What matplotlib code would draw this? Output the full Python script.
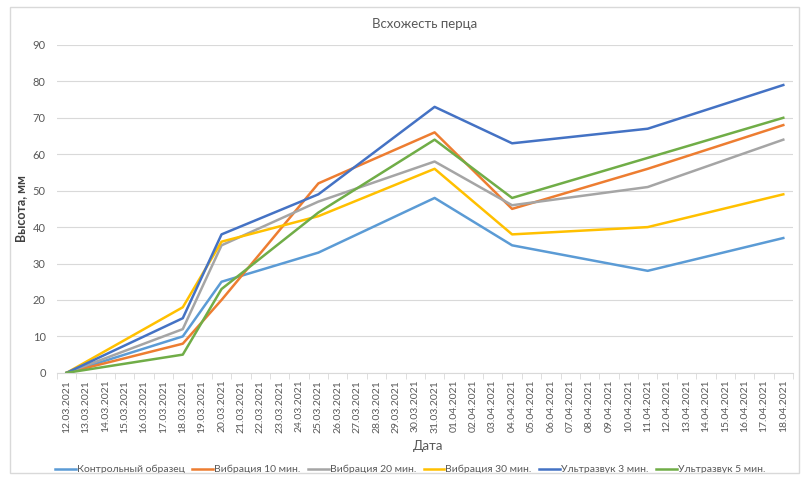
import matplotlib
matplotlib.use('Agg')
import matplotlib.pyplot as plt
import pandas as pd

plt.rcParams['font.family'] = ['Lato', 'DejaVu Sans']

# Все даты оси и даты измерений
dates = pd.date_range('2021-03-12', '2021-04-18').strftime('%d.%m.%Y').tolist()
point_dates = ['12.03.2021', '18.03.2021', '20.03.2021', '25.03.2021',
               '31.03.2021', '04.04.2021', '11.04.2021', '18.04.2021']

control = [0, 10, 25, 33, 48, 35, 28, 37]
vib10 = [0, 8, 20, 52, 66, 45, 56, 68]
vib20 = [0, 12, 35, 47, 58, 46, 51, 64]
vib30 = [0, 18, 36, 43, 56, 38, 40, 49]
us3 = [0, 15, 38, 49, 73, 63, 67, 79]
us5 = [0, 5, 23, 44, 64, 48, 59, 70]

series = [
    ('Контрольный образец', control, '#5B9BD5'),
    ('Вибрация 10 мин.', vib10, '#ED7D31'),
    ('Вибрация 20 мин.', vib20, '#A5A5A5'),
    ('Вибрация 30 мин.', vib30, '#FFC000'),
    ('Ультразвук 3 мин.', us3, '#4472C4'),
    ('Ультразвук 5 мин.', us5, '#70AD47'),
]

x = [dates.index(d) for d in point_dates]

fig = plt.figure(figsize=(8.01, 4.78), dpi=100)
ax = fig.add_axes([0.071, 0.22, 0.919, 0.686])

for name, vals, col in series:
    ax.plot(x, vals, color=col, lw=1.8, label=name)

ax.set_xlim(-0.5, len(dates) - 0.5)
ax.set_ylim(0, 90)
ax.set_yticks(range(0, 91, 10))
ax.set_xticks(range(len(dates)))
ax.set_xticklabels(dates, rotation=90, fontsize=7.5, color='#595959')
ax.set_xticks([i - 0.5 for i in range(len(dates) + 1)], minor=True)
ax.tick_params(axis='x', which='major', length=0, pad=5)
ax.tick_params(axis='x', which='minor', length=4, color='#D9D9D9')
ax.tick_params(axis='y', length=0, labelsize=8, labelcolor='#595959', pad=8)
ax.grid(axis='y', color='#D9D9D9', lw=0.8)
ax.set_axisbelow(True)
for s in ['top', 'right', 'left']:
    ax.spines[s].set_visible(False)
ax.spines['bottom'].set_color('#D9D9D9')

ax.set_title('Всхожесть перца', fontsize=9.5, color='#595959', pad=12)
ax.set_ylabel('Высота, мм', fontsize=9, color='#404040', fontweight='bold')
ax.set_xlabel('Дата', fontsize=9.5, color='#595959')
ax.xaxis.set_label_coords(0.505, -0.205)

ax.legend(loc='upper center', bbox_to_anchor=(0.48, -0.252), ncol=6, frameon=False,
          fontsize=7.5, handlelength=2.0, handletextpad=0.1, columnspacing=0.7,
          labelcolor='#595959')

fig.patches.append(plt.Rectangle((0.012, 0.01), 0.985, 0.975, transform=fig.transFigure,
                                 fill=False, edgecolor='#D9D9D9', lw=1))

fig.savefig('out.png', dpi=100)
